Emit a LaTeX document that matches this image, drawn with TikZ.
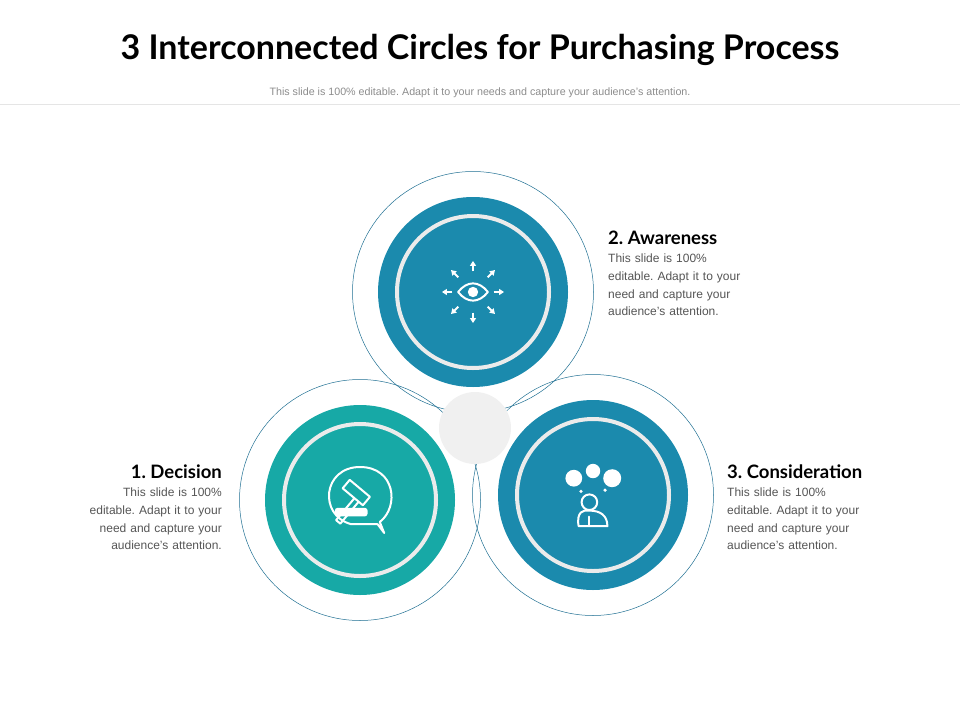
\documentclass[tikz,border=0pt]{standalone}
\usepackage{fontspec}
\setmainfont{Liberation Sans}
\newfontfamily\headfont{Lato}
\usetikzlibrary{positioning, arrows.meta}
\definecolor{stepblue}{HTML}{1B8AAD}
\definecolor{stepteal}{HTML}{17A9A6}
\definecolor{ringline}{HTML}{1F6F92}
\definecolor{hubgrey}{HTML}{F0F0F0}
\definecolor{bodygrey}{HTML}{555555}
\frenchspacing
\begin{document}
\begin{tikzpicture}
    [
        x=1pt, y=-1pt,
        outer_ring/.style={circle, draw=ringline, line width=0.5pt, minimum size=241pt, inner sep=0pt},
        disc/.style={circle, minimum size=190pt, inner sep=0pt},
        inner_ring/.style={circle, draw=white!92!black, line width=4pt, minimum size=152pt, inner sep=0pt},
        head/.style={font=\headfont\bfseries\fontsize{18.5}{20}\selectfont, inner sep=0pt},
        body/.style={font=\fontsize{12}{17.6}\selectfont, text=bodygrey, inner sep=0pt, text width=170pt},
        icon/.style={draw=white, line width=2pt, line cap=round, line join=round},
        ray/.style={-{Triangle[length=5pt, width=6pt]}, white, line width=2pt},
    ]
        \useasboundingbox (0,0) rectangle (960,720);
        \node[font=\headfont\bfseries\fontsize{34}{36}\selectfont] (title) at (480,50) {3 Interconnected Circles for Purchasing Process};
        \node[font=\fontsize{10.7}{12}\selectfont, text=black!45] (sub) at (480,93) {This slide is 100\%\ editable. Adapt it to your needs and capture your audience's attention.};
        \draw[black!10, line width=0.6pt] (0,104) -- (960,104);
        % outer rings
        \node[outer_ring] (ringA) at (473,292) {};
        \node[outer_ring] (ringD) at (360,500) {};
        \node[outer_ring] (ringC) at (593,495) {};
        % filled discs
        \node[disc, fill=stepblue] (awareness) at (473,292) {};
        \node[disc, fill=stepteal] (decision) at (360,500) {};
        \node[disc, fill=stepblue] (consideration) at (593,495) {};
        \node[inner_ring] at (awareness) {};
        \node[inner_ring] at (decision) {};
        \node[inner_ring] at (consideration) {};
        \node[circle, fill=hubgrey, minimum size=72pt] (hub) at (475,428) {};
        % eye icon
        \begin{scope}[shift={(awareness.center)}, scale=1.15]
            \draw[icon] (-13,0) .. controls (-5,-10) and (5,-10) .. (13,0) .. controls (5,10) and (-5,10) .. (-13,0);
            \fill[white] (0,0) circle (4.5);
            \foreach \a in {0,45,...,315}
                \draw[ray] (\a:18) -- (\a:27);
        \end{scope}
        % gavel icon
        \begin{scope}[shift={(decision.center)}, scale=1.1]
            \draw[icon] (18,20) .. controls (36,6) and (32,-30) .. (0,-30) .. controls (-34,-30) and (-38,14) .. (-8,22) -- (16,22) -- (22,30) -- cycle;
            \draw[icon, rotate around={-40:(-4,-6)}] (-16,-12) rectangle (8,-2) (-2,-2) rectangle (3,24);
            \draw[icon, fill=white, rounded corners=2pt] (-22,8) rectangle (6,14);
        \end{scope}
        % thinking person icon
        \begin{scope}[shift={(consideration.center)}, scale=1.2]
            \fill[white] (-16,-14) circle (7) (0,-20) circle (6) (16,-14) circle (7.5);
            \fill[white] (-10,-3) circle (1.5) (10,-4) circle (1.5);
            \draw[icon] (-3,6) circle (6.5);
            \draw[icon] (-12,26) .. controls (-14,14) and (-8,12) .. (-3,13) .. controls (6,13) and (12,17) .. (12,26) -- cycle;
            \draw[icon] (-3,26) -- (-3,18);
        \end{scope}
        % labels
        \node[head, anchor=west] (headA) at (608,238) {2. Awareness};
        \node[body, anchor=north west, align=left] (textA) at (608,254) {This slide is 100\%\\editable. Adapt it to your\\need and capture your\\audience's attention.};
        \node[head, anchor=east] (headD) at (222,472) {1. Decision};
        \node[body, anchor=north east, align=right] (textD) at (222,488) {This slide is 100\%\\editable. Adapt it to your\\need and capture your\\audience's attention.};
        \node[head, anchor=west] (headC) at (727,472) {3. Consideration};
        \node[body, anchor=north west, align=left] (textC) at (727,488) {This slide is 100\%\\editable. Adapt it to your\\need and capture your\\audience's attention.};
\end{tikzpicture}
\end{document}
